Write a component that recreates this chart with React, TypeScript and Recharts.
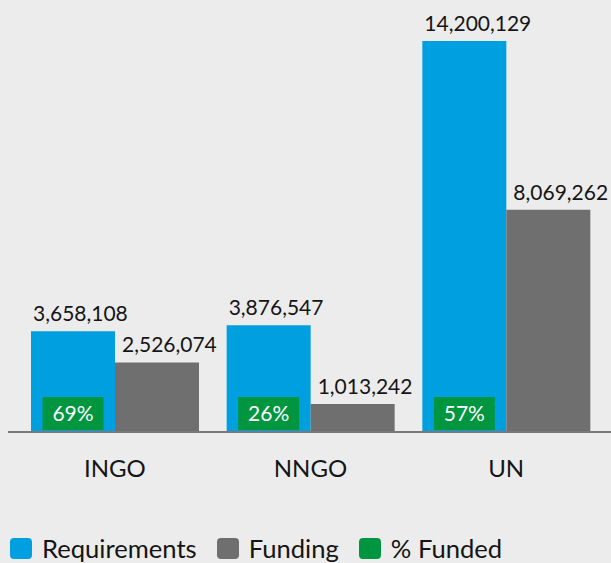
import React from "react";
import { BarChart, Bar, XAxis, YAxis, LabelList, Legend } from "recharts";

const categories = ["INGO", "NNGO", "UN"];
const requirements = [3658108, 3876547, 14200129];
const funding = [2526074, 1013242, 8069262];
const pctFunded = ["69%", "26%", "57%"];

const legendItems = [
  { name: "Requirements", color: "#009fe0" },
  { name: "Funding", color: "#6f6f6f" },
  { name: "% Funded", color: "#009640" },
];

const data = categories.map((c, i) => ({
  name: c,
  requirements: requirements[i],
  funding: funding[i],
  pct: pctFunded[i],
}));

const FONT = "Lato, 'Noto Sans', sans-serif";
const fmt = (v: number) => v.toLocaleString("en-US");

const ValueLabel = (offsetX: number) => (props: any) => {
  const { x, y, value } = props;
  return (
    <text
      x={Number(x) + offsetX}
      y={Number(y) - 10}
      textAnchor="start"
      fontFamily={FONT}
      fontSize={21}
      fill="#151515"
    >
      {fmt(Number(value))}
    </text>
  );
};

const PctBadge = (props: any) => {
  const { x, y, width, height, value } = props;
  const cx = Number(x) + Number(width) / 2;
  const bottom = Number(y) + Number(height) - 2;
  const w = 61;
  const h = 33;
  return (
    <g>
      <rect x={cx - w / 2} y={bottom - h} width={w} height={h} fill="#009640" />
      <text
        x={cx}
        y={bottom - 9}
        textAnchor="middle"
        fontFamily={FONT}
        fontSize={21}
        fill="#ffffff"
      >
        {value}
      </text>
    </g>
  );
};

const CategoryTick = (props: any) => {
  const { x, y, payload } = props;
  return (
    <text
      x={x}
      y={y}
      dy={36.5}
      textAnchor="middle"
      fontFamily={FONT}
      fontSize={24}
      fill="#151515"
    >
      {payload.value}
    </text>
  );
};

const LegendContent = () => (
  <div
    style={{
      height: 40,
      display: "flex",
      alignItems: "center",
      paddingTop: 10,
      boxSizing: "border-box",
      fontFamily: FONT,
      fontSize: 25.6,
      color: "#151515",
    }}
  >
    {legendItems.map((it, i) => (
      <div
        key={it.name}
        style={{ display: "flex", alignItems: "center", marginRight: 20, marginLeft: i === 0 ? 10 : 0 }}
      >
        <span
          style={{
            display: "inline-block",
            width: 22,
            height: 21,
            borderRadius: 4,
            background: it.color,
            marginRight: 10,
          }}
        />
        <span style={{ lineHeight: "26px" }}>{it.name}</span>
      </div>
    ))}
  </div>
);

export default function App() {
  return (
    <div style={{ position: "absolute", left: 0, top: 0, width: 611, height: 563, background: "#ececec" }}>
      <style>{`body{margin:0;background:#ececec;}`}</style>
      <BarChart
        width={611}
        height={563}
        data={data}
        margin={{ top: 41, right: 0, left: 8, bottom: 0 }}
        barCategoryGap={14}
        barGap={0}
      >
        <XAxis
          dataKey="name"
          padding={{ left: 9, right: 7 }}
          axisLine={{ stroke: "#7a7a7a", strokeWidth: 2 }}
          tickLine={false}
          tick={<CategoryTick />}
          height={91}
          interval={0}
        />
        <YAxis hide domain={[0, 14200129]} />
        <Legend
          verticalAlign="bottom"
          align="left"
          content={<LegendContent />}
          wrapperStyle={{ left: 0, height: 40 }}
        />
        <Bar dataKey="requirements" name="Requirements" fill="#009fe0" isAnimationActive={false}>
          <LabelList dataKey="requirements" content={ValueLabel(2)} />
          <LabelList dataKey="pct" content={PctBadge} />
        </Bar>
        <Bar dataKey="funding" name="Funding" fill="#6f6f6f" isAnimationActive={false}>
          <LabelList dataKey="funding" content={ValueLabel(7)} />
        </Bar>
      </BarChart>
    </div>
  );
}
